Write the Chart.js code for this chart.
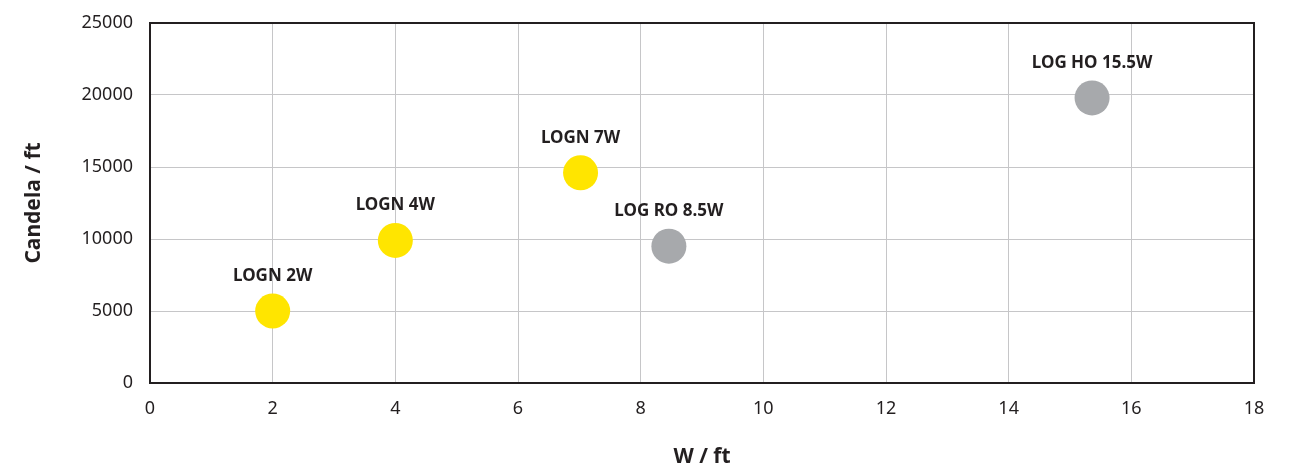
<!DOCTYPE html>
<html>
<head>
<meta charset="utf-8">
<script src="https://cdn.jsdelivr.net/npm/chart.js@4"></script>
<style>
html,body{margin:0;padding:0;background:#fff;}
canvas{display:block;}
</style>
</head>
<body>
<canvas id="c" width="1310" height="472"></canvas>
<script>
// Data
const lognNames = ['LOGN 2W', 'LOGN 4W', 'LOGN 7W'];
const lognWatts = [2, 4, 7.02];
const lognCandela = [5000, 9900, 14600];

const logNames = ['LOG RO 8.5W', 'LOG HO 15.5W'];
const logWatts = [8.46, 15.36];
const logCandela = [9500, 19800];

const xTicks = [0, 2, 4, 6, 8, 10, 12, 14, 16, 18];
const yTicks = [0, 5000, 10000, 15000, 20000, 25000];

const FONT = "'Noto Sans', 'DejaVu Sans', sans-serif";
const DARK = '#231f20';

function pts(xs, ys) { return xs.map((x, i) => ({x: x, y: ys[i]})); }

const labelPlugin = {
  id: 'pointLabels',
  afterDatasetsDraw(chart) {
    const ctx = chart.ctx;
    ctx.save();
    ctx.font = "bold 17px " + FONT;
    ctx.fillStyle = DARK;
    ctx.textAlign = 'center';
    ctx.textBaseline = 'middle';
    chart.data.datasets.forEach((ds, di) => {
      const meta = chart.getDatasetMeta(di);
      meta.data.forEach((el, i) => {
        ctx.fillText(ds.names[i], el.x, el.y - 35);
      });
    });
    ctx.restore();
  },
  afterDraw(chart) {
    const a = chart.chartArea;
    const ctx = chart.ctx;
    ctx.save();
    ctx.strokeStyle = DARK;
    ctx.lineWidth = 2;
    ctx.strokeRect(a.left, a.top, a.right - a.left, a.bottom - a.top);
    ctx.restore();
  }
};

new Chart(document.getElementById('c'), {
  type: 'scatter',
  data: {
    datasets: [
      {
        names: lognNames,
        data: pts(lognWatts, lognCandela),
        backgroundColor: '#ffe500',
        borderWidth: 0,
        pointRadius: 17.5,
        pointHoverRadius: 17.5
      },
      {
        names: logNames,
        data: pts(logWatts, logCandela),
        backgroundColor: '#a7a9ac',
        borderWidth: 0,
        pointRadius: 17.5,
        pointHoverRadius: 17.5
      }
    ]
  },
  options: {
    responsive: false,
    animation: false,
    devicePixelRatio: 1,
    layout: { padding: { left: 0, top: 23, right: 56, bottom: 0 } },
    plugins: { legend: { display: false }, tooltip: { enabled: false } },
    scales: {
      x: {
        type: 'linear',
        min: 0, max: 18,
        afterBuildTicks(s) { s.ticks = xTicks.map(v => ({value: v})); },
        afterFit(s) { s.height = 89; s.paddingLeft = 0; s.paddingRight = 0; },
        grid: { color: '#c6c6c8', lineWidth: 1, drawTicks: false },
        border: { display: false },
        ticks: { font: { family: FONT, size: 18 }, color: DARK, padding: 15, maxRotation: 0 },
        title: { display: true, text: 'W / ft', font: { family: FONT, size: 21, weight: 'bold' }, color: DARK, padding: { top: 4, bottom: 2 } }
      },
      y: {
        type: 'linear',
        min: 0, max: 25000,
        afterBuildTicks(s) { s.ticks = yTicks.map(v => ({value: v})); },
        afterFit(s) { s.width = 150; s.paddingTop = 0; s.paddingBottom = 0; },
        grid: { color: '#c6c6c8', lineWidth: 1, drawTicks: false },
        border: { display: false },
        ticks: { font: { family: FONT, size: 18 }, color: DARK, padding: 17, callback: v => String(v) },
        title: { display: true, text: 'Candela / ft', font: { family: FONT, size: 21, weight: 'bold' }, color: DARK, padding: { top: 21, bottom: 4 } }
      }
    }
  },
  plugins: [labelPlugin]
});
</script>
</body>
</html>
